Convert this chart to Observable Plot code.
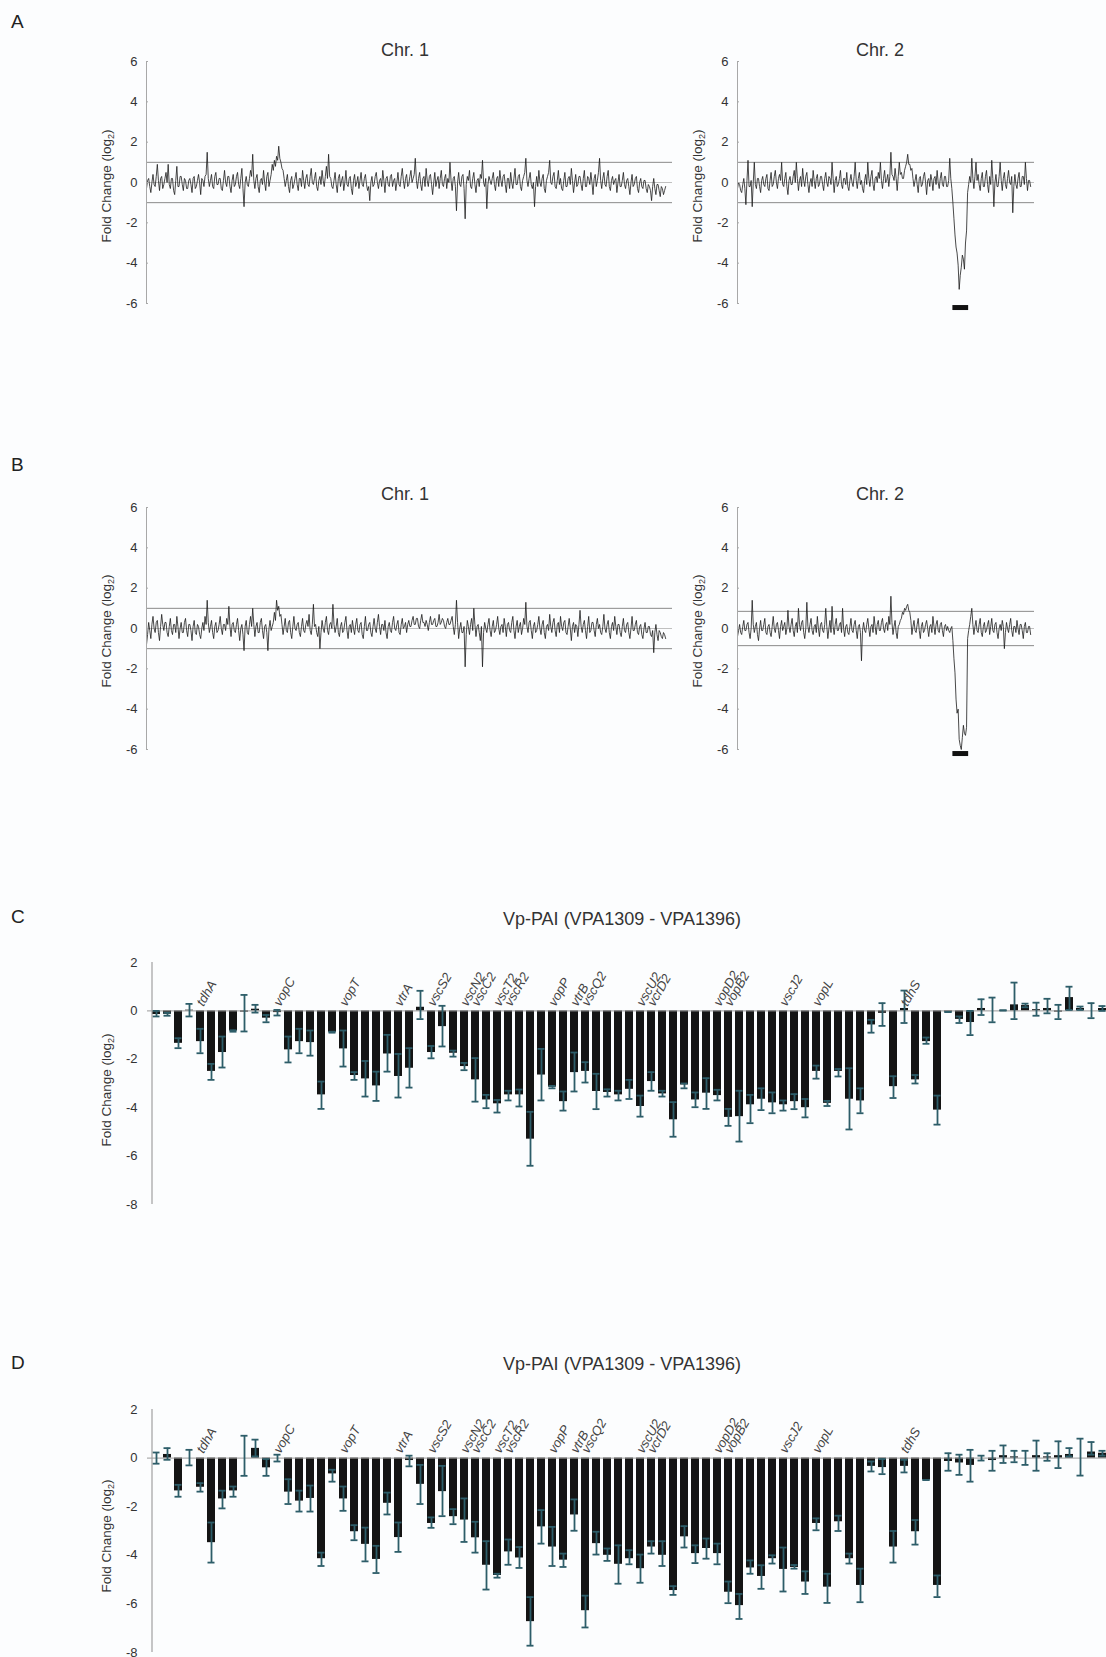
<!DOCTYPE html>
<html><head><meta charset="utf-8">
<script src="https://cdn.jsdelivr.net/npm/d3@7"></script>
<script src="https://cdn.jsdelivr.net/npm/@observablehq/plot@0.6"></script>
<style>
html,body{margin:0;padding:0;background:#fcfdfe;overflow:hidden;}
#page{position:relative;width:1106px;height:1657px;font-family:Arial,"Liberation Sans",Helvetica,sans-serif;color:#333;}
.abs{position:absolute;white-space:nowrap;}
.letter{font-size:19px;line-height:19px;color:#222;}
.ptitle{font-size:18px;line-height:18px;transform:translateX(-50%);color:#333;}
.ylab{font-size:13.5px;line-height:14px;transform:translate(-50%,-50%) rotate(-90deg);color:#333;}
.ylab sub{font-size:9px;vertical-align:-3px;line-height:0;}
svg{position:absolute;left:0;}
</style></head><body><div id="page"></div>
<script>
// ---------- Panel A / B genome profiles (log2 fold change along each chromosome) ----------
const chr1A = [
-0.3,0.1,0.2,-0.2,-0.5,0.0,0.4,-0.1,-0.2,0.3,0.9,0.1,-0.4,0.2,0.3,-0.3,-0.1,0.2,0.5,0.0,
0.9,-0.1,-0.3,0.2,0.2,-0.4,-0.6,0.1,0.8,-0.2,-0.2,0.3,0.3,-0.1,-0.4,0.2,0.1,-0.3,-0.3,0.1,
0.2,-0.1,-0.5,0.2,0.3,-0.3,-0.2,0.1,0.4,0.0,-0.6,0.2,0.1,-0.2,0.3,0.4,1.5,0.2,-0.2,0.1,
0.4,-0.2,-0.3,0.3,0.5,-0.1,-0.1,0.2,0.2,-0.3,-0.4,0.1,0.6,0.0,-0.2,0.3,0.3,-0.2,-0.5,0.1,
0.4,-0.2,-0.1,0.3,0.5,-0.1,-0.3,0.2,0.7,-0.3,-1.2,0.0,0.3,-0.1,-0.2,0.2,0.6,0.3,1.4,0.1,
-0.3,0.2,0.4,-0.2,-0.5,0.1,0.2,-0.1,0.6,0.0,-0.4,0.3,0.5,-0.2,0.1,0.4,0.9,0.6,1.1,0.8,
1.3,1.1,1.8,1.2,1.0,0.7,0.6,0.2,-0.2,0.1,0.4,-0.2,-0.5,0.1,0.3,-0.3,-0.1,0.2,0.5,-0.1,
-0.4,0.2,0.2,-0.2,0.6,0.1,-0.3,0.2,0.4,-0.1,-0.2,0.3,0.7,0.0,-0.1,0.2,0.5,-0.2,-0.4,0.1,
0.3,-0.1,0.6,0.1,-0.2,0.3,0.8,0.2,1.4,0.3,0.2,-0.2,-0.3,0.1,0.5,-0.1,-0.5,0.2,0.4,-0.2,
0.1,0.3,-0.4,0.0,0.6,-0.1,-0.2,0.2,0.3,-0.3,-0.6,0.1,0.4,-0.2,0.0,0.3,-0.3,0.1,0.5,-0.1,
-0.2,0.2,0.4,-0.1,-0.4,-0.2,-0.9,0.0,0.3,-0.2,-0.1,0.3,0.5,0.0,-0.3,0.1,0.2,-0.2,0.6,0.1,
-0.5,0.2,0.3,-0.1,-0.2,0.3,0.4,-0.2,0.1,0.2,-0.4,0.0,0.5,-0.1,-0.2,0.3,0.7,0.1,-0.3,0.2,
0.4,-0.2,-0.1,0.3,0.6,0.0,0.2,0.4,1.2,0.1,-0.3,0.2,0.5,-0.1,-0.4,0.2,0.3,-0.2,0.7,0.1,
-0.2,0.3,0.4,-0.1,-0.6,0.0,0.5,-0.2,0.1,0.3,-0.3,0.2,0.6,-0.1,-0.2,0.2,0.4,-0.3,0.2,0.0,
1.0,0.1,-0.4,0.2,0.3,-0.2,-1.4,0.0,0.5,-0.1,-0.2,0.3,0.4,-0.3,-1.8,-0.1,0.3,0.1,0.6,-0.2,
-0.3,0.2,0.5,-0.1,-0.5,0.1,0.2,-0.2,0.4,0.2,1.1,0.0,-0.2,0.2,-1.3,-0.1,0.3,0.1,-0.1,0.2,
0.5,-0.1,-0.4,0.2,0.3,-0.2,0.6,0.1,-0.2,0.3,0.4,-0.1,-0.5,0.2,0.2,-0.3,0.5,0.0,-0.3,0.2,
0.7,-0.1,-0.1,0.3,0.4,-0.2,-0.4,0.1,0.3,0.5,1.2,0.1,-0.2,0.2,0.5,-0.1,-0.3,0.0,-1.2,-0.2,
0.3,-0.2,0.6,0.0,-0.2,0.2,0.4,-0.3,-0.5,0.1,0.3,0.5,1.1,0.0,-0.1,0.3,0.5,-0.2,-0.3,0.1,
0.6,-0.1,0.2,-0.3,-0.4,0.1,0.5,-0.2,-0.2,0.2,0.3,-0.1,0.7,0.1,-0.5,0.0,0.4,-0.2,-0.1,0.3,
0.3,-0.1,-0.4,0.2,0.6,-0.2,-0.2,0.3,0.2,-0.1,0.5,0.0,-0.6,0.2,0.4,-0.2,0.1,0.5,1.2,0.1,
-0.3,0.2,0.5,-0.1,-0.2,0.3,0.6,-0.2,-0.4,0.1,0.3,-0.1,0.1,0.2,-0.5,0.0,0.4,-0.2,-0.2,0.1,
0.5,-0.1,-0.3,0.1,0.2,-0.2,-0.6,0.0,0.4,-0.2,-0.1,0.2,0.3,-0.3,-0.5,0.0,0.2,-0.2,-0.3,0.1,
0.1,-0.3,-0.5,-0.1,-0.2,-0.4,-0.9,-0.2,0.2,-0.3,-0.6,-0.1,-0.1,-0.4,-0.7,-0.2,-0.3,-0.6,-0.4,-0.2];
const chr2A = [
-0.3,0.0,-0.1,-0.4,-0.5,-0.1,0.2,-0.3,-1.1,0.1,1.1,-0.2,-0.2,0.1,-1.2,0.0,1.0,-0.1,-0.3,0.2,
0.2,-0.2,-0.5,0.1,0.3,-0.1,-0.2,0.2,0.4,-0.3,-0.4,0.1,0.5,-0.2,-0.1,0.3,0.6,0.0,-0.3,0.2,
0.4,0.1,1.0,-0.1,-0.2,0.2,0.5,-0.2,-0.6,0.1,0.3,-0.1,-0.1,0.3,0.6,0.0,1.0,0.2,-0.4,0.1,
0.3,-0.2,0.7,0.1,-0.2,0.3,0.5,-0.1,-0.5,0.0,0.2,-0.2,0.6,0.1,-0.3,0.2,0.4,-0.2,-0.1,0.3,
0.3,-0.1,-0.4,0.2,0.5,0.0,-0.2,0.3,0.2,-0.1,1.0,0.2,-0.5,0.1,0.3,-0.2,-0.1,0.2,0.6,-0.1,
-0.3,0.2,0.2,-0.1,0.5,-0.2,-0.4,0.1,0.4,0.0,-0.2,0.3,1.0,0.1,-0.3,0.2,0.5,-0.1,0.1,-0.3,
-0.5,0.1,0.4,-0.1,1.0,0.2,-0.2,0.3,0.6,-0.1,-0.4,0.2,0.3,0.0,0.5,0.2,1.0,0.1,-0.3,0.2,
0.6,0.0,0.1,0.4,-0.2,0.3,1.5,0.4,0.3,0.1,0.7,0.2,-0.4,0.3,1.0,0.4,0.5,0.2,0.2,0.6,
0.8,1.0,1.4,0.9,0.9,0.6,0.7,0.2,-0.2,0.1,0.4,-0.1,-0.5,0.2,0.3,-0.2,-0.1,0.3,0.5,0.0,
-0.6,0.1,0.2,-0.2,0.4,0.1,-0.4,0.2,0.3,-0.1,0.6,0.0,-0.3,0.2,0.5,-0.1,-0.2,0.3,0.3,-0.2,
-0.2,0.1,1.2,0.2,-0.3,-1.0,-1.8,-2.6,-3.2,-3.5,-4.1,-5.3,-4.6,-4.2,-3.6,-3.8,-4.3,-3.0,-2.4,-0.5,
-0.1,0.3,0.0,1.2,0.2,-0.3,0.3,1.0,0.1,0.4,-0.1,-0.4,0.2,0.5,-0.2,-0.2,0.3,0.6,-0.1,-0.5,
0.3,-0.1,1.1,0.2,-1.2,0.0,0.4,-0.2,-0.2,0.3,1.0,0.1,-0.4,0.2,0.5,-0.1,-0.3,0.2,0.6,0.0,
-0.1,0.3,-1.5,-0.2,0.4,-0.1,-0.3,0.2,0.5,-0.2,-0.2,0.3,0.3,-0.1,1.0,0.2,-0.4,0.1,0.1,-0.2];
const chr1B = [
-0.8,-0.3,0.3,-0.1,-0.5,0.2,0.6,0.0,-0.2,0.3,0.4,-0.2,-0.6,0.1,0.7,0.2,-0.1,0.3,0.3,-0.2,
-0.4,0.1,0.5,-0.1,-0.3,0.2,0.2,-0.2,0.6,0.1,-0.5,0.0,0.3,-0.2,-0.2,0.3,0.5,-0.1,-0.4,0.2,
0.2,-0.1,-0.6,0.1,0.4,-0.2,-0.3,0.2,0.1,-0.3,-0.5,0.0,0.3,-0.1,0.6,0.2,1.4,0.3,-0.2,0.1,
0.4,-0.2,-0.5,0.1,0.3,-0.2,-0.1,0.2,0.6,0.0,-0.3,0.2,0.2,-0.1,0.5,0.2,1.1,0.1,-0.4,0.2,
0.3,-0.1,-0.2,0.2,0.5,-0.1,-0.6,0.0,0.2,-0.3,-1.1,0.1,0.4,-0.2,-0.3,0.2,0.6,0.1,1.0,0.2,
-0.4,0.1,0.3,-0.2,-0.2,0.3,0.5,-0.1,-0.5,0.1,0.2,-0.2,-1.1,0.0,0.4,-0.1,0.1,0.3,0.8,0.4,
1.4,0.9,1.1,0.6,0.7,0.2,-0.3,0.1,0.5,-0.1,-0.2,0.3,0.4,-0.2,-0.5,0.1,0.6,0.0,-0.1,0.2,
0.3,-0.2,-0.4,0.1,0.5,-0.1,-0.2,0.2,0.4,0.1,0.7,-0.1,-0.3,0.2,1.2,0.1,0.2,-0.2,-0.4,0.1,
-1.0,-0.2,0.4,0.0,-0.2,0.3,0.6,-0.1,-0.3,0.2,0.3,0.0,1.2,0.2,-0.2,0.1,0.5,-0.2,-0.4,0.1,
0.3,-0.2,-0.1,0.3,0.6,-0.1,-0.5,0.1,0.2,-0.2,0.4,0.0,-0.3,0.2,0.5,-0.1,-0.2,0.2,0.3,-0.3,
-0.5,0.1,0.6,-0.1,-0.1,0.2,0.3,-0.2,-0.4,0.1,0.5,0.0,-0.2,0.3,0.7,0.1,-0.3,0.2,0.2,-0.1,
0.4,-0.2,-0.5,0.1,0.3,-0.1,-0.2,0.3,0.6,0.0,-0.1,0.2,0.4,-0.2,-0.3,0.2,0.5,0.0,0.1,0.3,
-0.2,0.2,0.4,0.1,0.1,0.4,0.6,0.2,0.2,0.5,0.5,0.1,0.0,0.4,0.7,0.3,0.3,0.1,0.4,0.2,
-0.1,0.3,0.6,0.2,0.2,0.4,0.5,0.1,0.1,0.3,0.7,0.2,0.3,0.5,0.4,0.1,0.0,0.3,0.5,0.2,
0.2,0.4,0.6,0.1,-0.3,0.2,1.4,0.3,-0.5,0.0,0.3,-0.2,-0.2,0.1,-1.9,-0.3,0.4,0.1,-0.3,0.2,
0.5,-0.1,1.0,0.2,-0.4,0.1,0.2,-0.2,-0.6,0.1,-1.9,-0.2,0.3,0.0,-0.2,0.2,0.5,-0.1,-0.4,0.1,
0.4,-0.2,-0.1,0.2,0.6,0.0,-0.3,0.1,0.2,-0.2,0.5,0.1,-0.4,0.2,0.3,-0.1,-0.2,0.3,0.6,-0.1,
-0.5,0.1,0.4,-0.2,0.1,0.3,-0.3,0.0,0.5,0.2,1.3,0.1,-0.2,0.3,0.4,-0.1,-0.5,0.1,0.3,-0.2,
-0.1,0.2,0.6,0.0,-0.3,0.2,0.4,-0.2,-0.5,0.1,0.2,-0.1,0.7,0.1,-0.2,0.3,0.5,-0.1,-0.4,0.2,
0.3,-0.2,0.6,0.1,-0.1,0.3,0.4,-0.2,-0.3,0.1,0.5,0.0,-0.6,0.1,0.3,-0.2,0.2,0.1,-0.4,0.2,
0.9,0.1,-0.2,0.2,0.4,-0.1,-0.5,0.1,0.6,-0.2,-0.1,0.3,0.3,-0.1,-0.4,0.2,0.5,0.0,0.2,-0.2,
-0.3,0.1,0.7,0.0,-0.2,0.2,0.4,-0.2,-0.5,0.1,0.3,-0.1,0.6,0.1,-0.3,0.2,0.2,-0.2,-0.4,0.1,
0.5,-0.1,-0.2,0.2,0.3,-0.2,-0.5,0.0,0.6,-0.1,-0.1,0.2,0.4,-0.2,-0.3,0.1,0.2,-0.3,-0.5,0.0,
0.3,-0.2,-0.2,0.1,0.1,-0.3,-0.4,-0.1,-1.2,-0.2,0.2,-0.3,-0.6,-0.1,-0.2,-0.4,-0.5,-0.2,-0.3,-0.5];
const chr2B = [
-0.4,-0.1,0.2,-0.2,-0.3,0.1,0.4,-0.1,-0.1,0.2,0.3,-0.2,-0.5,0.0,1.4,0.2,-0.2,0.1,0.3,-0.3,
-0.6,0.0,0.4,-0.1,-0.1,0.2,0.5,-0.2,-0.3,0.1,0.2,-0.2,-0.4,0.1,0.6,0.0,-0.2,0.2,0.3,-0.1,
-0.5,0.1,0.4,-0.1,0.1,0.3,-0.3,0.0,0.9,0.1,-0.2,0.2,0.5,-0.1,-0.4,0.1,0.3,-0.2,1.0,0.2,
-0.1,0.3,0.4,-0.2,-0.5,0.0,1.3,0.1,-0.2,0.2,0.5,-0.1,-0.3,0.1,0.2,-0.2,0.6,0.0,-0.4,0.2,
0.3,-0.1,-0.2,0.2,1.0,0.1,-0.5,0.0,0.4,-0.2,1.1,0.1,-0.3,0.2,0.5,-0.1,-0.1,0.2,0.3,-0.2,
1.0,0.0,-0.4,0.1,0.2,-0.2,-0.3,0.1,0.5,-0.1,-0.2,0.2,0.4,-0.1,-0.5,0.1,0.2,-0.2,-1.6,-0.1,
0.3,-0.1,-0.2,0.2,0.5,0.0,-0.4,0.1,0.2,-0.2,0.6,0.1,-0.3,0.2,0.4,-0.1,-0.1,0.3,0.5,0.0,
-0.2,0.2,0.3,-0.1,0.6,0.2,1.6,0.3,-0.3,0.1,0.4,-0.2,-0.5,0.1,0.2,0.4,0.5,0.8,0.7,1.0,
0.9,1.1,1.2,0.9,0.8,0.4,-0.3,0.1,0.4,-0.1,-0.2,0.2,0.5,-0.1,-0.5,0.1,0.3,-0.2,-0.1,0.2,
0.4,0.0,-0.4,0.1,0.2,-0.2,0.6,0.1,-0.3,0.2,0.4,-0.1,-0.2,0.2,0.3,-0.1,-0.4,0.1,0.2,-0.1,
0.1,-0.1,-0.2,0.0,0.1,-0.6,-1.5,-2.2,-3.5,-4.2,-4.0,-5.5,-5.8,-6.0,-5.4,-4.8,-5.2,-5.3,-4.9,-0.5,
-0.1,0.2,0.6,1.0,0.2,-0.3,0.1,0.4,-0.1,-0.2,0.2,0.5,-0.2,-0.4,0.1,0.3,-0.2,-0.1,0.2,0.4,
-0.3,0.1,0.5,-0.1,-0.2,0.2,0.3,-0.2,-0.5,0.0,0.2,-0.1,0.4,0.1,-1.0,-0.2,0.3,0.0,-0.2,0.2,
0.5,-0.1,-0.4,0.1,0.1,-0.2,0.4,0.0,-0.3,0.2,0.2,-0.1,-0.5,0.1,0.3,-0.2,-0.2,0.1,0.1,-0.3];
const thresholdsA = [1, -1];
const thresholdsB1 = [1, -1];
const thresholdsB2 = [0.85, -0.85];
const deletionRegion = [205, 220];   // Vp-PAI position on Chr. 2 (profile index units)
const yTicksProfile = [-6, -4, -2, 0, 2, 4, 6];
const yDomainProfile = [-6, 6];

// ---------- Panel C / D: Vp-PAI genes ----------
const geneIds = ["VPA1309","VPA1310","VPA1311","VPA1312","VPA1313","VPA1314","VPA1315","VPA1316","VPA1317","VPA1318",
"VPA1319","VPA1320","VPA1321","VPA1322","VPA1323","VPA1324","VPA1325","VPA1326","VPA1327","VPA1328",
"VPA1329","VPA1330","VPA1331","VPA1332","VPA1333","VPA1334","VPA1335","VPA1336","VPA1337","VPA1338",
"VPA1339","VPA1340","VPA1341","VPA1342","VPA1343","VPA1344","VPA1345","VPA1346","VPA1347","VPA1348",
"VPA1349","VPA1350","VPA1351","VPA1352","VPA1353","VPA1354","VPA1355","VPA1356","VPA1357","VPA1358",
"VPA1359","VPA1360","VPA1361","VPA1362","VPA1363","VPA1364","VPA1365","VPA1366","VPA1367","VPA1368",
"VPA1369","VPA1370","VPA1371","VPA1372","VPA1373","VPA1374","VPA1375","VPA1376","VPA1377","VPA1378",
"VPA1379","VPA1380","VPA1381","VPA1382","VPA1383","VPA1384","VPA1385","VPA1386","VPA1387","VPA1388",
"VPA1389","VPA1390","VPA1391","VPA1392","VPA1393","VPA1394","VPA1395","VPA1396"];
const geneNames = ["tdhA","vopC","vopT","vtrA","vscS2","vscN2","vscC2","vscT2","vscR2","vopP","vtrB","vscQ2","vscU2","vcrD2","vopD2","vopB2","vscJ2","vopL","tdhS"];
const geneNameIds = ["VPA1314","VPA1321","VPA1327","VPA1332","VPA1335","VPA1338","VPA1339","VPA1341","VPA1342","VPA1346","VPA1348","VPA1349","VPA1354","VPA1355","VPA1361","VPA1362","VPA1367","VPA1370","VPA1378"];

const valsC = [-0.15,-0.14,-1.34,0.03,-1.27,-2.5,-1.72,-0.83,-0.05,0.07,-0.3,-0.07,-1.61,-1.27,-1.31,-3.47,-0.88,-1.57,-2.67,-2.81,
-3.1,-1.78,-2.71,-2.37,0.15,-1.72,-0.65,-1.75,-2.3,-2.85,-3.68,-3.84,-3.47,-3.47,-5.3,-2.65,-3.15,-3.75,-2.55,-2.5,
-3.33,-3.37,-3.47,-3.24,-3.95,-2.92,-3.43,-4.5,-3.06,-3.68,-3.4,-3.5,-4.4,-4.37,-3.88,-3.65,-3.8,-3.88,-3.75,-4.0,
-2.5,-3.82,-2.5,-3.65,-3.72,-0.58,-0.1,-3.13,0.1,-2.85,-1.27,-4.1,-0.05,-0.35,-0.48,0.1,0,0.02,0.25,0.22,
0.05,0.1,-0.05,0.55,0.1,0,0.1];
const hiC = [0,-0.08,-1.13,0.29,-0.74,-2.19,-1.06,-0.8,0.66,0.25,-0.17,0.04,-1.06,-0.74,-0.81,-2.92,-0.86,-0.81,-2.53,-2.07,
-2.51,-0.99,-1.78,-1.54,0.83,-1.45,0.21,-1.64,-2.15,-1.95,-3.47,-3.68,-3.3,-3.25,-4.17,-1.57,-3.1,-3.33,-1.72,-2.12,
-2.6,-3.24,-3.3,-2.85,-3.5,-2.53,-3.3,-3.77,-3.0,-3.37,-2.78,-3.26,-4.05,-3.3,-3.47,-3.2,-3.37,-3.7,-3.44,-3.64,
-2.26,-3.72,-2.4,-2.37,-3.2,-0.37,0.32,-2.7,0.84,-2.65,-1.1,-3.5,-0.05,-0.23,0,0.48,0.55,0.02,1.17,0.3,
0.34,0.5,0.25,1.0,0.18,0.32,0.2];
const loC = [-0.23,-0.2,-1.54,-0.23,-1.75,-2.85,-2.34,-0.86,-0.85,-0.07,-0.47,-0.19,-2.13,-1.75,-1.85,-4.05,-0.9,-2.3,-2.85,-3.54,
-3.72,-2.51,-3.58,-3.17,-0.34,-1.96,-1.47,-1.89,-2.45,-3.75,-4.02,-4.2,-3.7,-3.95,-6.4,-3.7,-3.2,-4.12,-3.33,-2.96,
-4.06,-3.54,-3.7,-3.64,-4.37,-3.3,-3.54,-5.2,-3.2,-3.98,-4.05,-3.7,-4.75,-5.4,-4.64,-4.1,-4.23,-4.12,-4.06,-4.4,
-2.8,-3.93,-2.71,-4.9,-4.23,-0.9,-0.62,-3.6,-0.5,-3.0,-1.36,-4.7,-0.05,-0.5,-1.0,-0.17,-0.47,0.02,-0.34,0.15,
-0.2,-0.1,-0.34,0.04,0.04,-0.3,0.0];

const valsD = [0,0.15,-1.35,0,-1.2,-3.48,-1.68,-1.35,0,0.4,-0.4,0,-1.4,-1.77,-1.66,-4.14,-0.65,-1.68,-3.03,-3.55,
-4.17,-1.86,-3.27,-0.1,-1.08,-2.69,-1.38,-2.41,-2.55,-3.28,-4.41,-4.83,-3.86,-4.11,-6.73,-2.83,-3.66,-4.2,-2.34,-6.28,
-3.52,-4.0,-4.37,-4.14,-4.55,-3.66,-4.0,-5.45,-3.24,-3.93,-3.72,-3.93,-5.52,-6.07,-4.52,-4.87,-4.14,-4.58,-4.5,-5.1,
-2.69,-5.31,-2.62,-4.14,-5.24,-0.34,-0.39,-3.66,-0.34,-3.03,-0.9,-5.24,-0.14,-0.2,-0.3,0,-0.1,0.1,0.05,0,
0.1,0.05,0.1,0.15,0,0.25,0.2];
const hiD = [0.23,0.41,-1.1,0.34,-1.03,-2.65,-1.34,-1.17,0.92,0.76,-0.04,0.14,-0.87,-1.34,-1.13,-3.89,-0.48,-1.17,-2.76,-2.86,
-3.61,-1.42,-2.65,0.1,-0.28,-2.44,-0.32,-2.1,-1.66,-2.62,-3.42,-4.76,-3.35,-3.66,-5.72,-2.14,-2.83,-3.93,-1.7,-5.66,
-3.03,-3.72,-3.59,-3.79,-3.97,-3.42,-3.42,-5.27,-2.8,-3.59,-3.31,-3.52,-5.08,-5.59,-4.21,-4.41,-4.0,-3.68,-4.4,-4.66,
-2.48,-4.76,-2.37,-3.93,-4.55,-0.14,-0.04,-3.0,-0.07,-2.55,-0.9,-4.83,0.2,0.14,0.34,0.1,0.3,0.52,0.3,0.3,
0.72,0.2,0.69,0.41,0.8,0.66,0.3];
const loD = [-0.23,-0.07,-1.59,-0.3,-1.38,-4.3,-2.07,-1.59,-0.73,0.07,-0.73,-0.14,-1.89,-2.2,-2.2,-4.44,-0.97,-2.17,-3.38,-4.25,
-4.73,-2.32,-3.86,-0.34,-1.89,-2.87,-2.39,-2.72,-3.45,-3.89,-5.41,-4.92,-4.39,-4.52,-7.72,-3.52,-4.44,-4.48,-2.99,-6.97,
-3.97,-4.23,-5.17,-4.37,-5.13,-3.93,-4.44,-5.63,-3.68,-4.32,-4.14,-4.37,-5.97,-6.62,-4.76,-5.38,-4.34,-5.49,-4.55,-5.59,
-2.97,-5.96,-3.0,-4.34,-5.93,-0.55,-0.66,-4.3,-0.59,-3.56,-0.9,-5.72,-0.52,-0.69,-0.97,-0.1,-0.52,-0.2,-0.17,-0.28,
-0.52,-0.11,-0.41,0.07,-0.72,0.14,0.1];
const yTicksBar = [-8, -6, -4, -2, 0, 2];
const yDomainBar = [-8, 2];

// ---------- layout helpers ----------
const page = document.getElementById("page");
function addDiv(cls, html, left, top) {
  const d = document.createElement("div");
  d.className = "abs " + cls;
  d.innerHTML = html;
  d.style.left = left + "px";
  d.style.top = top + "px";
  page.appendChild(d);
}
function place(svg, top) {
  svg.style.position = "absolute";
  svg.style.left = "0px";
  svg.style.top = top + "px";
  page.appendChild(svg);
}
const FONT = 'Arial, "Liberation Sans", Helvetica, sans-serif';
const hyphenFmt = d => (d < 0 ? "-" + Math.abs(d) : String(d));

function profilePlot(values, thresholds, region, cfg) {
  const data = values.map((v, i) => ({i, v}));
  const xMax = (values.length - 1) / 0.987;
  const H = 330;
  const marks = [
    Plot.ruleY([0], {stroke: "#b0b0b0", strokeWidth: 0.8}),
    Plot.ruleY(thresholds, {stroke: "#8a8a8a", strokeWidth: 1}),
    Plot.lineY(data, {x: "i", y: "v", stroke: "#1c1c1c", strokeWidth: 0.8}),
    Plot.ruleX([0], {y1: yDomainProfile[0], y2: yDomainProfile[1], stroke: "#a8a8a8", strokeWidth: 1}),
    Plot.axisY(yTicksProfile, {tickSize: -2, tickPadding: 11, fontSize: 13, color: "#333", stroke: "#a8a8a8", tickFormat: hyphenFmt, label: null})
  ];
  if (region) marks.push(Plot.ruleY([region], {x1: d => d[0], x2: d => d[1], y: -6.2, stroke: "#111", strokeWidth: 5}));
  const svg = Plot.plot({
    width: 1106, height: H,
    marginLeft: cfg.axisX, marginRight: 1106 - cfg.ruleEnd,
    marginTop: cfg.yTop - cfg.top, marginBottom: H - (cfg.yBottom - cfg.top),
    x: {domain: [0, xMax], axis: null},
    y: {domain: yDomainProfile, axis: null},
    style: {background: "transparent", fontFamily: FONT, overflow: "visible"},
    marks
  });
  place(svg, cfg.top);
}

function barPlot(vals, his, los, cfg) {
  const data = vals.map((v, k) => ({id: geneIds[k], v, hi: his[k], lo: los[k]}));
  const labels = geneNames.map((name, k) => ({id: geneNameIds[k], name}));
  const H = cfg.height;
  const svg = Plot.plot({
    width: 1106, height: H,
    marginLeft: 147, marginRight: 0,
    marginTop: cfg.yTop - cfg.top, marginBottom: H - (cfg.yBottom - cfg.top),
    x: {type: "band", domain: geneIds, range: [144.5, 1124], paddingInner: 0.25, paddingOuter: 0.125, axis: null},
    y: {domain: yDomainBar, axis: null},
    style: {background: "transparent", fontFamily: FONT, overflow: "hidden"},
    marks: [
      Plot.barY(data, {x: "id", y: "v", fill: "#141414"}),
      Plot.ruleY([0], {stroke: "#9a9a9a", strokeWidth: 1}),
      Plot.ruleX(data, {x: "id", y1: "lo", y2: "hi", stroke: "#2d5d69", strokeWidth: 1.8}),
      Plot.tickY(data, {x: "id", y: "hi", stroke: "#2d5d69", strokeWidth: 1.8, inset: 0.5}),
      Plot.tickY(data, {x: "id", y: "lo", stroke: "#2d5d69", strokeWidth: 1.8, inset: 0.5}),
      Plot.ruleX([geneIds[0]], {y1: yDomainBar[0], y2: yDomainBar[1], dx: -4.5, stroke: "#a0a0a0", strokeWidth: 1.2}),
      Plot.axisY(yTicksBar, {tickSize: 0, tickPadding: 10, fontSize: 13, color: "#333", tickFormat: hyphenFmt, label: null}),
      Plot.text(labels, {x: "id", y: 0, text: "name", rotate: -60, textAnchor: "start", lineAnchor: "bottom",
        dx: -8, dy: -4, fontSize: 13, fontStyle: "italic", fill: "#444"})
    ]
  });
  place(svg, cfg.top);
}

// ---------- Panel A ----------
addDiv("letter", "A", 11, 12);
addDiv("ptitle", "Chr. 1", 405, 41);
addDiv("ptitle", "Chr. 2", 880, 41);
addDiv("ylab", "Fold Change (log<sub>2</sub>)", 107, 186);
addDiv("ylab", "Fold Change (log<sub>2</sub>)", 698, 186);
profilePlot(chr1A, thresholdsA, null, {top: 0, axisX: 146, ruleEnd: 672, yTop: 61, yBottom: 303});
profilePlot(chr2A, thresholdsA, deletionRegion, {top: 0, axisX: 737, ruleEnd: 1034, yTop: 61, yBottom: 303});

// ---------- Panel B ----------
addDiv("letter", "B", 11, 455);
addDiv("ptitle", "Chr. 1", 405, 485);
addDiv("ptitle", "Chr. 2", 880, 485);
addDiv("ylab", "Fold Change (log<sub>2</sub>)", 107, 631);
addDiv("ylab", "Fold Change (log<sub>2</sub>)", 698, 631);
profilePlot(chr1B, thresholdsB1, null, {top: 446, axisX: 146, ruleEnd: 672, yTop: 507, yBottom: 749});
profilePlot(chr2B, thresholdsB2, deletionRegion, {top: 446, axisX: 737, ruleEnd: 1034, yTop: 507, yBottom: 749});

// ---------- Panel C ----------
addDiv("letter", "C", 11, 907);
addDiv("ptitle", "Vp-PAI (VPA1309 - VPA1396)", 622, 910);
addDiv("ylab", "Fold Change (log<sub>2</sub>)", 107, 1090);
barPlot(valsC, hiC, loC, {top: 900, height: 330, yTop: 962, yBottom: 1204});

// ---------- Panel D ----------
addDiv("letter", "D", 11, 1353);
addDiv("ptitle", "Vp-PAI (VPA1309 - VPA1396)", 622, 1355);
addDiv("ylab", "Fold Change (log<sub>2</sub>)", 107, 1536);
barPlot(valsD, hiD, loD, {top: 1345, height: 312, yTop: 1409, yBottom: 1652});
</script></body></html>
